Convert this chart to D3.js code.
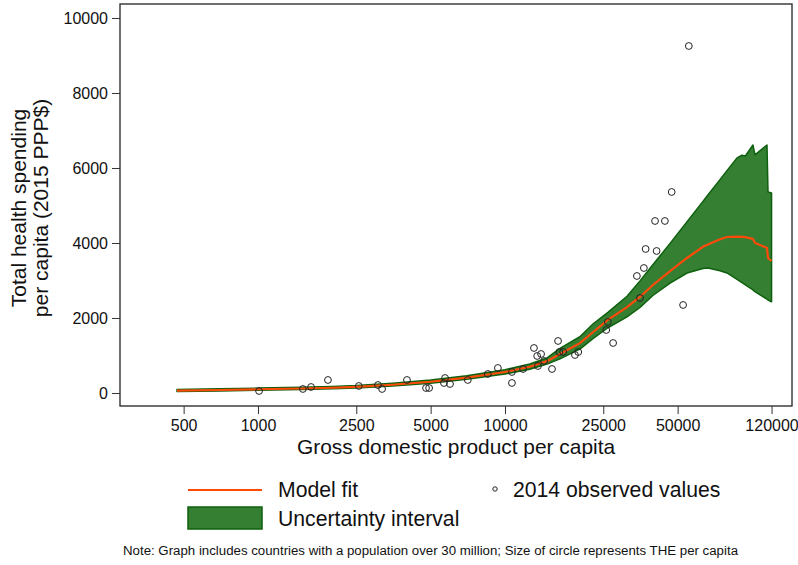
<!DOCTYPE html>
<html>
<head>
<meta charset="utf-8">
<script src="https://cdn.jsdelivr.net/npm/d3@7"></script>
<style>
  body { margin: 0; background: #fff; }
  text { font-family: "Liberation Sans", Arial, sans-serif; fill: #111; }
</style>
</head>
<body>
<script>
var width = 798, height = 565;

// Model fit and uncertainty interval, by GDP per capita
var gdpGrid = [470, 700, 1000, 1500, 2000, 2500, 3500, 5000, 7000, 10000, 12600, 14800, 16700,
               20100, 22700, 26100, 31200, 35200, 39700, 46600, 54600, 63300, 66300, 74200, 79200,
               87000, 91100, 94000, 100900, 102800, 115000, 116100, 120000];
var fitValues = [65, 80, 100, 120, 140, 165, 220, 300, 410, 560, 700, 850, 1040,
                 1330, 1620, 1950, 2290, 2560, 2880, 3250, 3600, 3900, 3960, 4100, 4160,
                 4170, 4165, 4155, 4110, 4000, 3870, 3600, 3520];
var lowerValues = [40, 55, 75, 95, 112, 135, 185, 260, 365, 505, 635, 770, 910,
                   1170, 1450, 1740, 2030, 2280, 2600, 2930, 3200, 3320, 3333, 3260, 3200,
                   3030, 2940, 2880, 2750, 2700, 2500, 2480, 2430];
var upperValues = [95, 110, 130, 150, 175, 200, 260, 345, 460, 620, 775, 935, 1190,
                   1500, 1840, 2150, 2580, 2990, 3420, 3990, 4570, 5110, 5280, 5690, 5930,
                   6270, 6340, 6320, 6613, 6350, 6613, 5360, 5333];

// 2014 observed values
var obsGdp = [1010, 1520, 1640, 1920, 2560, 3060, 3180, 4010, 4790, 4930, 5660, 5720, 5990,
              7070, 8520, 9360, 10670, 10670, 11840, 13100, 13500, 13600, 14000, 14400, 15500,
              16400, 16600, 17200, 19200, 19800, 25700, 26100, 27400, 34200, 35200, 36500,
              37100, 40500, 41100, 44400, 47300, 52600, 55500];
var obsThe = [53, 107, 160, 347, 187, 213, 107, 347, 133, 133, 267, 400, 240,
              347, 507, 667, 560, 267, 640, 1200, 987, 720, 1040, 853, 640,
              1387, 1093, 1093, 1013, 1093, 1680, 1893, 1333, 3120, 2533, 3333,
              3840, 4587, 3787, 4587, 5360, 2347, 9253];

var xTicks = [500, 1000, 2500, 5000, 10000, 25000, 50000, 120000];
var yTicks = [0, 2000, 4000, 6000, 8000, 10000];

var box = {left: 120, right: 792, top: 4, bottom: 406};

var svg = d3.select("body").append("svg")
            .attr("width", width)
            .attr("height", height);

var x = d3.scaleLog()
          .domain([276.3, 145200])
          .range([box.left, box.right]);
var y = d3.scaleLinear()
          .domain([-347, 10373])
          .range([box.bottom, box.top]);

var band = gdpGrid.map((g, i) => ({g: g, fit: fitValues[i], lo: lowerValues[i], hi: upperValues[i]}));

// Uncertainty interval
svg.append("path")
   .datum(band)
   .attr("fill", "#357f32")
   .attr("stroke", "#0e600e")
   .attr("stroke-width", 1.5)
   .attr("stroke-linejoin", "round")
   .attr("d", d3.area().x(d => x(d.g)).y0(d => y(d.lo)).y1(d => y(d.hi)));

// Model fit
svg.append("path")
   .datum(band)
   .attr("fill", "none")
   .attr("stroke", "#ff4a0a")
   .attr("stroke-width", 2.2)
   .attr("d", d3.line().x(d => x(d.g)).y(d => y(d.fit)));

// Observed points
svg.selectAll(".obs")
   .data(obsGdp)
   .enter()
   .append("circle")
   .attr("class", "obs")
   .attr("cx", d => x(d))
   .attr("cy", (d, i) => y(obsThe[i]))
   .attr("r", 3.4)
   .attr("fill", "none")
   .attr("stroke", "#222")
   .attr("stroke-width", 1);

// Plot frame
svg.append("rect")
   .attr("x", box.left)
   .attr("y", box.top)
   .attr("width", box.right - box.left)
   .attr("height", box.bottom - box.top)
   .attr("fill", "none")
   .attr("stroke", "#222")
   .attr("stroke-width", 1.3);

// Axes
var yAxis = svg.append("g")
               .attr("transform", "translate(" + box.left + ",0)")
               .call(d3.axisLeft(y).tickValues(yTicks).tickSize(8).tickPadding(4).tickFormat(d3.format("d")));
var xAxis = svg.append("g")
               .attr("transform", "translate(0," + box.bottom + ")")
               .call(d3.axisBottom(x).tickValues(xTicks).tickSize(8).tickPadding(6).tickFormat(d3.format("d")));

[yAxis, xAxis].forEach(a => {
  a.select(".domain").remove();
  a.selectAll(".tick line").attr("stroke", "#333");
  a.selectAll(".tick text")
   .attr("font-family", "'Liberation Sans', Arial, sans-serif")
   .attr("font-size", 16)
   .attr("fill", "#222");
});

// Axis titles
var yTitle = svg.append("text")
                .attr("transform", "translate(29.5,208) rotate(-90)")
                .attr("text-anchor", "middle")
                .attr("font-size", 21);
yTitle.append("tspan").attr("x", 0).attr("dy", "-0.15em").text("Total health spending");
yTitle.append("tspan").attr("x", 0).attr("dy", "1.05em").text("per capita (2015 PPP$)");

svg.append("text")
   .attr("x", (box.left + box.right) / 2)
   .attr("y", 454)
   .attr("text-anchor", "middle")
   .attr("font-size", 20.9)
   .text("Gross domestic product per capita");

// Legend
svg.append("line")
   .attr("x1", 188).attr("x2", 262)
   .attr("y1", 490).attr("y2", 490)
   .attr("stroke", "#ff4a0a")
   .attr("stroke-width", 2.2);
svg.append("text").attr("x", 278).attr("y", 497).attr("font-size", 21.2).text("Model fit");

svg.append("circle")
   .attr("cx", 495).attr("cy", 489).attr("r", 2.2)
   .attr("fill", "none").attr("stroke", "#222").attr("stroke-width", 1);
svg.append("text").attr("x", 513).attr("y", 497).attr("font-size", 21.2).text("2014 observed values");

svg.append("rect")
   .attr("x", 188).attr("y", 507)
   .attr("width", 74).attr("height", 22)
   .attr("fill", "#357f32")
   .attr("stroke", "#0e600e")
   .attr("stroke-width", 1.5);
svg.append("text").attr("x", 278).attr("y", 526).attr("font-size", 21.2).text("Uncertainty interval");

// Note
svg.append("text")
   .attr("x", 123)
   .attr("y", 555)
   .attr("font-size", 12.5)
   .attr("textLength", 615)
   .attr("lengthAdjust", "spacingAndGlyphs")
   .text("Note: Graph includes countries with a population over 30 million; Size of circle represents THE per capita");
</script>
</body>
</html>
